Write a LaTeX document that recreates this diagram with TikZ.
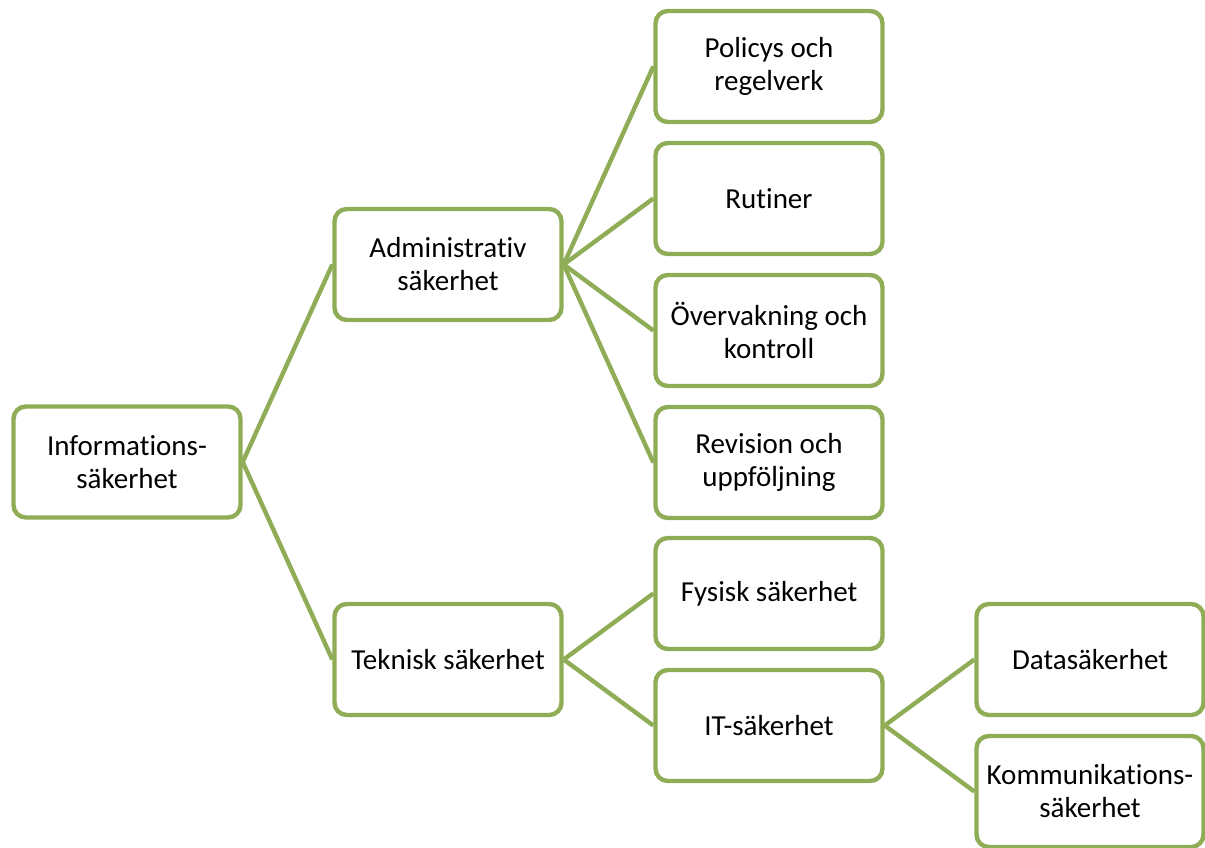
\documentclass[tikz,border=0pt]{standalone}
\usepackage{fontspec}
\setmainfont{Carlito}[Ligatures=NoCommon]
\definecolor{boxgreen}{RGB}{143,173,86}

\begin{document}
\begin{tikzpicture}[grow'=right, level distance=6.42cm,
  level 1/.style={sibling distance=7.9cm},
  level 2/.style={sibling distance=2.64cm},
  level 3/.style={sibling distance=2.64cm},
  box/.style={draw=boxgreen, line width=2.5pt, rounded corners=7pt, fill=white,
    minimum width=4.54cm, minimum height=2.22cm, align=center,
    font=\fontsize{16.5}{18.8}\selectfont},
  edge from parent/.style={draw=boxgreen, line width=2.5pt},
  edge from parent path={(\tikzparentnode.east) -- (\tikzchildnode.west)}]
\useasboundingbox (-2.54,-7.7) rectangle (21.56,9.24);
\node [box] (info) {Informations-\\säkerhet}
  child {
    node [box] (admin) {Administrativ\\säkerhet}
    child { node [box] (policy) {Policys och\\regelverk} }
    child { node [box] (rutin) {Rutiner} }
    child { node [box] (overv) {Övervakning och\\kontroll} }
    child { node [box] (revis) {Revision och\\uppföljning} }
  }
  child {
    node [box] (teknik) {Teknisk säkerhet}
    child { node [box] (fysisk) {Fysisk säkerhet} }
    child {
      node [box] (it) {IT-säkerhet}
      child { node [box] (data) {Datasäkerhet} }
      child { node [box] (komm) {Kommunikations-\\säkerhet} }
    }
  };
\end{tikzpicture}
\end{document}
